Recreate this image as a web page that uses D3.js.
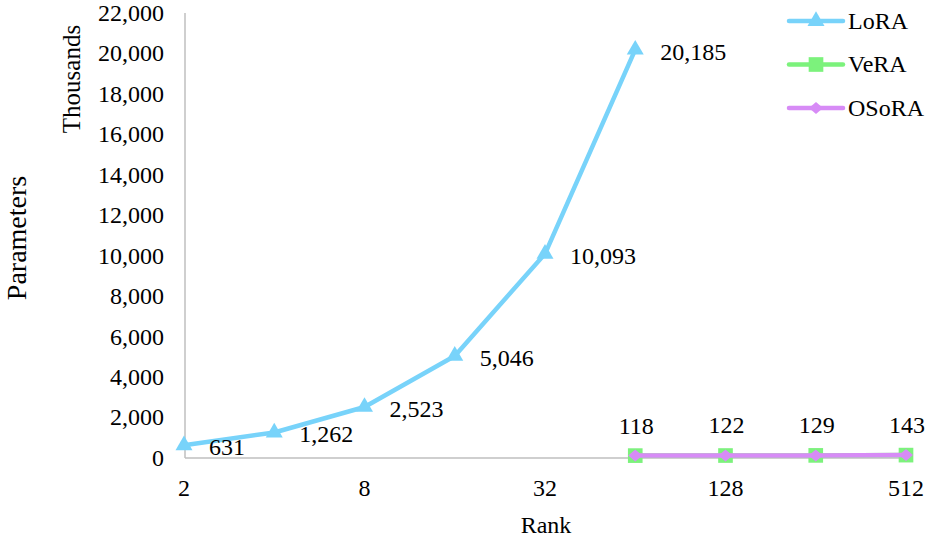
<!DOCTYPE html>
<html lang="en">
<head>
<meta charset="UTF-8">
<title>Parameters vs Rank</title>
<script src="https://cdn.jsdelivr.net/npm/d3@7"></script>
<style>
  body { margin: 0; background: #fff; }
  svg text { font-family: "Liberation Serif", "Times New Roman", serif; fill: #000; }
</style>
</head>
<body>
<div id="chart"></div>
<script>
// data
var ranks = ["2", "4", "8", "16", "32", "64", "128", "256", "512"];
var tickLabels = ["2", "8", "32", "128", "512"];
var loraRanks = ["2", "4", "8", "16", "32", "64"];
var loraValues = [631, 1262, 2523, 5046, 10093, 20185];
var veraRanks = ["64", "128", "256", "512"];
var veraValues = [118, 122, 129, 143];
var osoraRanks = ["64", "128", "256", "512"];
var osoraValues = [118, 122, 129, 143];
var yTicks = [0, 2000, 4000, 6000, 8000, 10000, 12000, 14000, 16000, 18000, 20000, 22000];

var width = 932, height = 539;
var svg = d3.select("#chart").append("svg")
    .attr("width", width)
    .attr("height", height);

var x = d3.scalePoint().domain(ranks).range([184, 906]);
var y = d3.scaleLinear().domain([0, 22000]).range([458, 13]);
var fmt = d3.format(",d");

var colLora = "#78d3fa", colVera = "#7cf27c", colOsora = "#d78bf6";

// axes
svg.append("line")
    .attr("x1", 185).attr("x2", 185)
    .attr("y1", y(22000)).attr("y2", y(0))
    .attr("stroke", "#bfbfbf").attr("stroke-width", 1.5);
svg.append("line")
    .attr("x1", 185).attr("x2", 908)
    .attr("y1", y(0)).attr("y2", y(0))
    .attr("stroke", "#bfbfbf").attr("stroke-width", 1.5);

svg.selectAll(".ytick")
  .data(yTicks)
  .enter().append("text")
    .attr("class", "ytick")
    .attr("x", 164)
    .attr("y", function(d) { return y(d); })
    .attr("dy", "0.33em")
    .attr("text-anchor", "end")
    .style("font-size", "24px")
    .text(function(d) { return fmt(d); });

svg.selectAll(".xtick")
  .data(tickLabels)
  .enter().append("text")
    .attr("class", "xtick")
    .attr("x", function(d) { return x(d); })
    .attr("y", 496)
    .attr("text-anchor", "middle")
    .style("font-size", "24px")
    .text(function(d) { return d; });

svg.append("text")
    .attr("x", 546).attr("y", 533)
    .attr("text-anchor", "middle")
    .style("font-size", "24px")
    .text("Rank");

svg.append("text")
    .attr("transform", "translate(26,238) rotate(-90)")
    .attr("text-anchor", "middle")
    .style("font-size", "28px")
    .text("Parameters");

svg.append("text")
    .attr("transform", "translate(80,79) rotate(-90)")
    .attr("text-anchor", "middle")
    .style("font-size", "25px")
    .text("Thousands");

var line = d3.line()
    .x(function(d) { return x(d[0]); })
    .y(function(d) { return y(d[1]); });

var tri = d3.symbol().type(d3.symbolTriangle).size(125)();
var sq = d3.symbol().type(d3.symbolSquare).size(215)();
var dia = "M-7,0L0,-6L7,0L0,6Z";

function series(rk, vals, color, sym) {
  var pts = rk.map(function(r, i) { return [r, vals[i]]; });
  svg.append("path")
      .datum(pts)
      .attr("d", line)
      .attr("fill", "none")
      .attr("stroke", color)
      .attr("stroke-width", 4.5)
      .attr("stroke-linejoin", "round");
  svg.selectAll(null)
    .data(pts)
    .enter().append("path")
      .attr("transform", function(d) { return "translate(" + x(d[0]) + "," + y(d[1]) + ")"; })
      .attr("d", sym)
      .attr("fill", color);
  return pts;
}

var loraPts = series(loraRanks, loraValues, colLora, tri);
series(veraRanks, veraValues, colVera, sq);
var osoraPts = series(osoraRanks, osoraValues, colOsora, dia);

svg.selectAll(".lbl-lora")
  .data(loraPts)
  .enter().append("text")
    .attr("x", function(d) { return x(d[0]) + 25; })
    .attr("y", function(d) { return y(d[1]) + 2; })
    .attr("dy", "0.33em")
    .style("font-size", "24px")
    .text(function(d) { return fmt(d[1]); });

svg.selectAll(".lbl-osora")
  .data(osoraPts)
  .enter().append("text")
    .attr("x", function(d) { return x(d[0]) + 1; })
    .attr("y", function(d) { return y(d[1]) - 30; })
    .attr("dy", "0.33em")
    .attr("text-anchor", "middle")
    .style("font-size", "24px")
    .text(function(d) { return fmt(d[1]); });

// legend
var legend = [["LoRA", colLora, tri], ["VeRA", colVera, sq], ["OSoRA", colOsora, dia]];
var lg = svg.selectAll(".legend")
  .data(legend)
  .enter().append("g")
    .attr("transform", function(d, i) { return "translate(789," + (21 + i * 43.5) + ")"; });
lg.append("line")
    .attr("x1", 0).attr("x2", 54)
    .attr("stroke", function(d) { return d[1]; })
    .attr("stroke-width", 4.5)
    .attr("stroke-linecap", "round");
lg.append("path")
    .attr("transform", "translate(27,0)")
    .attr("d", function(d) { return d[2]; })
    .attr("fill", function(d) { return d[1]; });
lg.append("text")
    .attr("x", 59)
    .attr("dy", "0.33em")
    .style("font-size", "24px")
    .text(function(d) { return d[0]; });
</script>
</body>
</html>
